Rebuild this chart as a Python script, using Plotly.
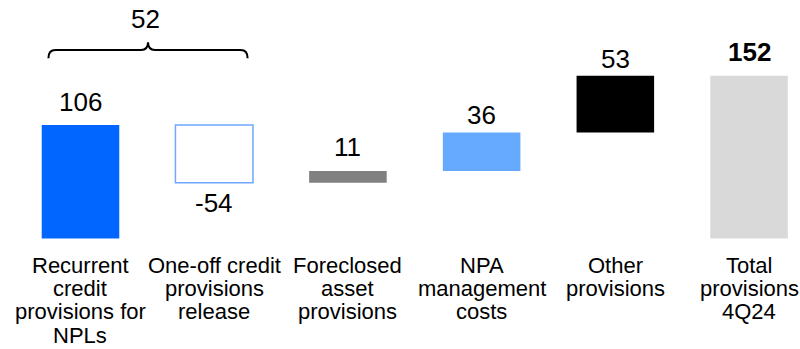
import numpy as np
import plotly.graph_objects as go

# ---- data -------------------------------------------------------------
categories = [
    "Recurrent<br>credit<br>provisions for<br>NPLs",
    "One-off credit<br>provisions<br>release",
    "Foreclosed<br>asset<br>provisions",
    "NPA<br>management<br>costs",
    "Other<br>provisions",
    "Total<br>provisions<br>4Q24",
]
steps = [106, -54, 11, 36, 53]
total = 152
bracket_value = 52          # recurrent + one-off credit provisions

# ---- styling ----------------------------------------------------------
FONT = "Liberation Sans, Arial, sans-serif"
fill_colors = ["#0066FF", "#FFFFFF", "#808080", "#66AAFF", "#000000", "#D9D9D9"]
edge_colors = ["#0066FF", "#6EA8FF", "#808080", "#66AAFF", "#000000", "#D9D9D9"]
edge_widths = [0, 1.5, 0, 0, 0, 0]
value_shift = [6, -3, 7, 1, 0, 7]       # px offset of each value label
line_baselines = [272.7, 296.5, 319.5, 343.0]   # px rows of category text
W, H = 800, 349

# ---- derived waterfall geometry ---------------------------------------
values = steps + [total]
bases = [0.0] + list(np.cumsum(steps)[:-1]) + [0.0]
x = list(range(len(values)))
ends = [b + v for b, v in zip(bases, values)]

fig = go.Figure()
fig.add_trace(go.Bar(
    x=x, y=values, base=bases, width=0.58,
    marker=dict(color=fill_colors,
                line=dict(color=edge_colors, width=edge_widths)),
    hoverinfo="skip",
))

# value labels
for i, (v, b, e) in enumerate(zip(values, bases, ends)):
    txt = f"<b>{v}</b>" if i == len(values) - 1 else str(v)
    if v >= 0:
        fig.add_annotation(x=i, y=e, xref="x", yref="y", text=txt,
                           showarrow=False, yanchor="bottom",
                           yshift=value_shift[i],
                           font=dict(family=FONT, size=26, color="#000000"))
    else:
        fig.add_annotation(x=i, y=e, xref="x", yref="y", text=txt,
                           showarrow=False, yanchor="top",
                           yshift=value_shift[i],
                           font=dict(family=FONT, size=26, color="#000000"))

# category labels, one annotation per text row
for i, label in enumerate(categories):
    for j, line in enumerate(label.split("<br>")):
        center_px = line_baselines[j] - 7.6
        fig.add_annotation(x=i, y=1 - center_px / H, xref="x", yref="paper",
                           text=line, showarrow=False, yanchor="middle",
                           font=dict(family=FONT, size=22, color="#000000"))

# curly brace over the first two bars
x0, x1 = -0.24, 1.25
xc = (x0 + x1) / 2
rx = 0.052
y_line, y_tip, y_cusp = 176.2, 168.4, 183.4
brace = (f"M {x0},{y_tip} Q {x0},{y_line} {x0 + rx},{y_line} "
         f"L {xc - rx},{y_line} Q {xc},{y_line} {xc},{y_cusp} "
         f"Q {xc},{y_line} {xc + rx},{y_line} "
         f"L {x1 - rx},{y_line} Q {x1},{y_line} {x1},{y_tip}")
fig.add_shape(type="path", path=brace, xref="x", yref="y",
              line=dict(color="#000000", width=2))
fig.add_annotation(x=xc - 0.02, y=y_cusp, xref="x", yref="y",
                   text=str(bracket_value), showarrow=False,
                   yanchor="bottom", yshift=6,
                   font=dict(family=FONT, size=26, color="#000000"))

fig.update_layout(
    width=W, height=H,
    margin=dict(l=0, r=0, t=0, b=0, pad=0),
    paper_bgcolor="white", plot_bgcolor="white",
    showlegend=False,
    xaxis=dict(range=[-0.602, 5.381], visible=False, fixedrange=True),
    yaxis=dict(range=[-103.3, 222.9], visible=False, fixedrange=True),
)

fig.write_html("out.html")
